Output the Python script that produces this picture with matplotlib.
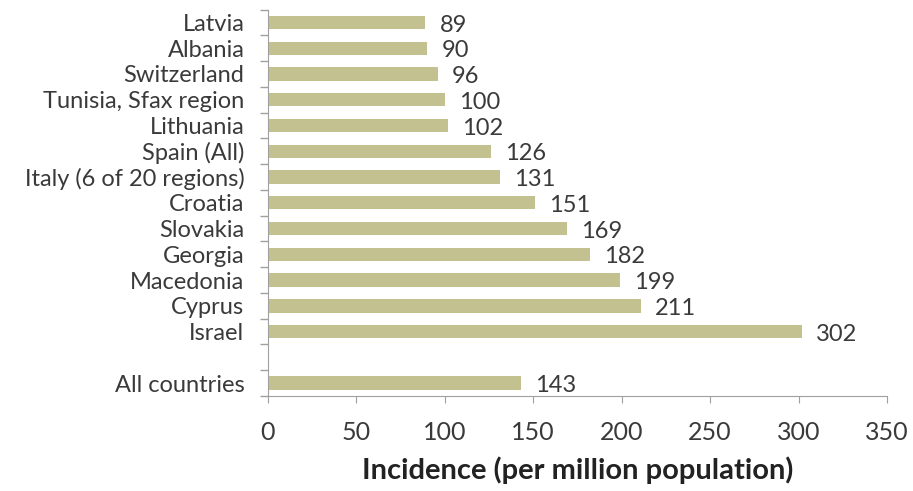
import matplotlib.pyplot as plt
import numpy as np

plt.rcParams['font.family'] = ['Lato', 'DejaVu Sans']

# 위에서 아래 순서 (빈 칸 = 구분용)
countries = ["Latvia", "Albania", "Switzerland", "Tunisia, Sfax region", "Lithuania",
             "Spain (All)", "Italy (6 of 20 regions)", "Croatia", "Slovakia", "Georgia",
             "Macedonia", "Cyprus", "Israel", "", "All countries"]
incidence = [89, 90, 96, 100, 102, 126, 131, 151, 169, 182, 199, 211, 302, None, 143]
xticks = [0, 50, 100, 150, 200, 250, 300, 350]

bar_color = "#c4c190"
text_color = "#3a3a3a"
axis_color = "#a0a0a0"

fig = plt.figure(figsize=(9.13, 4.91), dpi=100)
ax = fig.add_axes([0.2935, 0.1935, 0.678, 0.787])

n = len(countries)
ypos = np.arange(n)
for y, v in zip(ypos, incidence):
    if v is None:
        continue
    ax.barh(y, v, height=0.52, color=bar_color)
    ax.text(v + 8, y + 0.1, str(v), va="center", ha="left",
            fontsize=17, color=text_color)

ax.set_ylim(n - 0.5, -0.5)
ax.set_xlim(0, 350)

# 카테고리 경계에 눈금
ax.set_yticks(np.arange(n + 1) - 0.5)
ax.set_yticklabels([])
ax.set_yticks(ypos, minor=True)
ax.set_yticklabels(countries, minor=True, fontsize=17, color=text_color)
ax.tick_params(axis="y", which="minor", length=0, pad=17)
ax.tick_params(axis="y", which="major", length=6, color=axis_color, width=1)

ax.set_xticks(xticks)
ax.set_xticklabels([str(t) for t in xticks], fontsize=18, color=text_color)
ax.tick_params(axis="x", length=5, color=axis_color, pad=13)
ax.set_xlabel("Incidence (per million population)", fontsize=21,
              fontweight="bold", color="#222222", labelpad=9)

for side in ["top", "right"]:
    ax.spines[side].set_visible(False)
ax.spines["left"].set_color(axis_color)
ax.spines["bottom"].set_color(axis_color)

plt.savefig("out.png", dpi=100)
